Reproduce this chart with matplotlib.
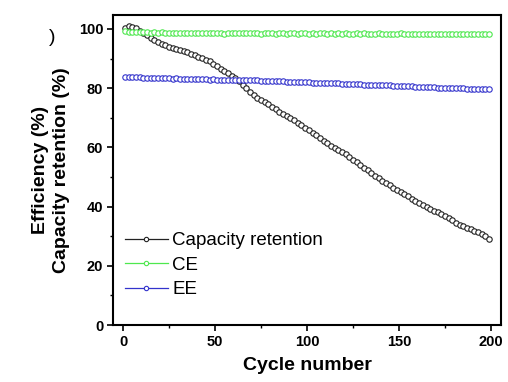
import numpy as np
import matplotlib
matplotlib.use("Agg")
import matplotlib.pyplot as plt
from matplotlib.ticker import MultipleLocator

# cycle index (every second cycle)
CYCLES = np.arange(1, 201, 2)

CAPACITY = [100.4, 100.9, 100.8, 100.2, 99.4, 98.6, 97.9, 97.0, 96.2, 95.6,
            95.0, 94.5, 94.0, 93.6, 93.2, 92.9, 92.5, 92.1, 91.6, 91.1,
            90.6, 90.2, 89.6, 89.0, 88.3, 87.5, 86.6, 85.8, 85.0, 84.2,
            83.4, 82.3, 81.1, 79.9, 78.7, 77.7, 76.8, 75.9, 75.2, 74.5,
            73.7, 72.9, 72.1, 71.3, 70.6, 69.8, 69.1, 68.3, 67.5, 66.6,
            65.8, 64.9, 64.1, 63.2, 62.3, 61.4, 60.5, 59.8, 59.0, 58.3,
            57.6, 56.7, 55.8, 54.9, 54.0, 53.1, 52.2, 51.2, 50.3, 49.5,
            48.7, 47.9, 47.2, 46.4, 45.7, 45.0, 44.2, 43.5, 42.7, 41.9,
            41.2, 40.5, 39.8, 39.2, 38.6, 38.0, 37.4, 36.7, 36.0, 35.3,
            34.6, 33.9, 33.4, 32.9, 32.4, 31.9, 31.3, 30.7, 30.0, 29.1]

CE = [99.3, 99.1, 99.0, 98.9, 98.8, 98.9, 98.8, 98.7, 98.8, 98.7,
      98.8, 98.7, 98.6, 98.7, 98.6, 98.7, 98.5, 98.6, 98.7, 98.6,
      98.6, 98.7, 98.5, 98.6, 98.6, 98.5, 98.6, 98.4, 98.6, 98.5,
      98.6, 98.5, 98.6, 98.5, 98.5, 98.6, 98.5, 98.4, 98.5, 98.6,
      98.5, 98.4, 98.5, 98.5, 98.4, 98.6, 98.5, 98.4, 98.5, 98.5,
      98.4, 98.5, 98.4, 98.6, 98.5, 98.4, 98.5, 98.4, 98.5, 98.4,
      98.5, 98.4, 98.3, 98.5, 98.4, 98.5, 98.4, 98.3, 98.4, 98.5,
      98.4, 98.3, 98.4, 98.4, 98.3, 98.5, 98.4, 98.3, 98.4, 98.3,
      98.4, 98.3, 98.4, 98.3, 98.4, 98.2, 98.4, 98.3, 98.3, 98.4,
      98.3, 98.2, 98.3, 98.4, 98.2, 98.3, 98.3, 98.2, 98.3, 98.2]

EE = [83.9, 83.8, 83.7, 83.6, 83.6, 83.5, 83.5, 83.4, 83.5, 83.4,
      83.3, 83.4, 83.3, 83.2, 83.3, 83.2, 83.1, 83.2, 83.1, 83.0,
      83.1, 83.0, 83.0, 82.9, 83.0, 82.9, 82.8, 82.9, 82.8, 82.8,
      82.7, 82.8, 82.7, 82.6, 82.7, 82.6, 82.6, 82.5, 82.5, 82.4,
      82.4, 82.3, 82.4, 82.3, 82.2, 82.2, 82.1, 82.2, 82.1, 82.0,
      82.0, 81.9, 81.9, 81.8, 81.8, 81.7, 81.7, 81.6, 81.6, 81.5,
      81.5, 81.4, 81.4, 81.3, 81.3, 81.2, 81.2, 81.1, 81.1, 81.0,
      81.0, 80.9, 80.9, 80.8, 80.8, 80.7, 80.7, 80.6, 80.6, 80.5,
      80.5, 80.4, 80.4, 80.3, 80.3, 80.2, 80.2, 80.1, 80.1, 80.0,
      80.0, 79.9, 79.9, 79.8, 79.8, 79.8, 79.7, 79.7, 79.7, 79.6]

SERIES = [("Capacity retention", CAPACITY, "#222222"),
          ("CE", CE, "#4ee84e"),
          ("EE", EE, "#3333cc")]

plt.rcParams["font.family"] = ["Liberation Sans", "DejaVu Sans"]

fig = plt.figure(figsize=(5.08, 3.82), dpi=100)
ax = fig.add_axes([0.2224, 0.1492, 0.7638, 0.8115])

for label, vals, col in SERIES:
    ax.plot(CYCLES, vals, "-o", color=col, lw=0.9, ms=3.9, mew=0.8,
            mfc="white", mec=col, label=label)

ax.set_xlim(-5.5, 205.5)
ax.set_ylim(0, 104.7)
ax.xaxis.set_major_locator(MultipleLocator(50))
ax.xaxis.set_minor_locator(MultipleLocator(25))
ax.yaxis.set_major_locator(MultipleLocator(20))
ax.yaxis.set_minor_locator(MultipleLocator(10))
ax.tick_params(which="major", direction="out", length=4, width=1.2,
               labelsize=10.5, pad=3)
ax.tick_params(which="minor", direction="out", length=2.5, width=1.0)
for lab in ax.get_xticklabels() + ax.get_yticklabels():
    lab.set_fontweight("bold")
for sp in ax.spines.values():
    sp.set_linewidth(1.5)

ax.set_xlabel("Cycle number", fontsize=14, fontweight="bold", labelpad=6)
ax.set_ylabel("Efficiency (%)\nCapacity retention (%)", fontsize=14,
              fontweight="bold", linespacing=1.35, labelpad=6)

fig.text(52 / 508, 1 - 38 / 382, ")", fontsize=14, ha="center", va="center")

# legend markers as small open circles
leg = ax.legend(loc="upper left", bbox_to_anchor=(0.03, 0.30), frameon=False,
                fontsize=13.5, handlelength=2.3, handletextpad=0.25,
                labelspacing=0.4, borderpad=0, borderaxespad=0,
                markerscale=0.8)

fig.savefig("out.png", dpi=100)
